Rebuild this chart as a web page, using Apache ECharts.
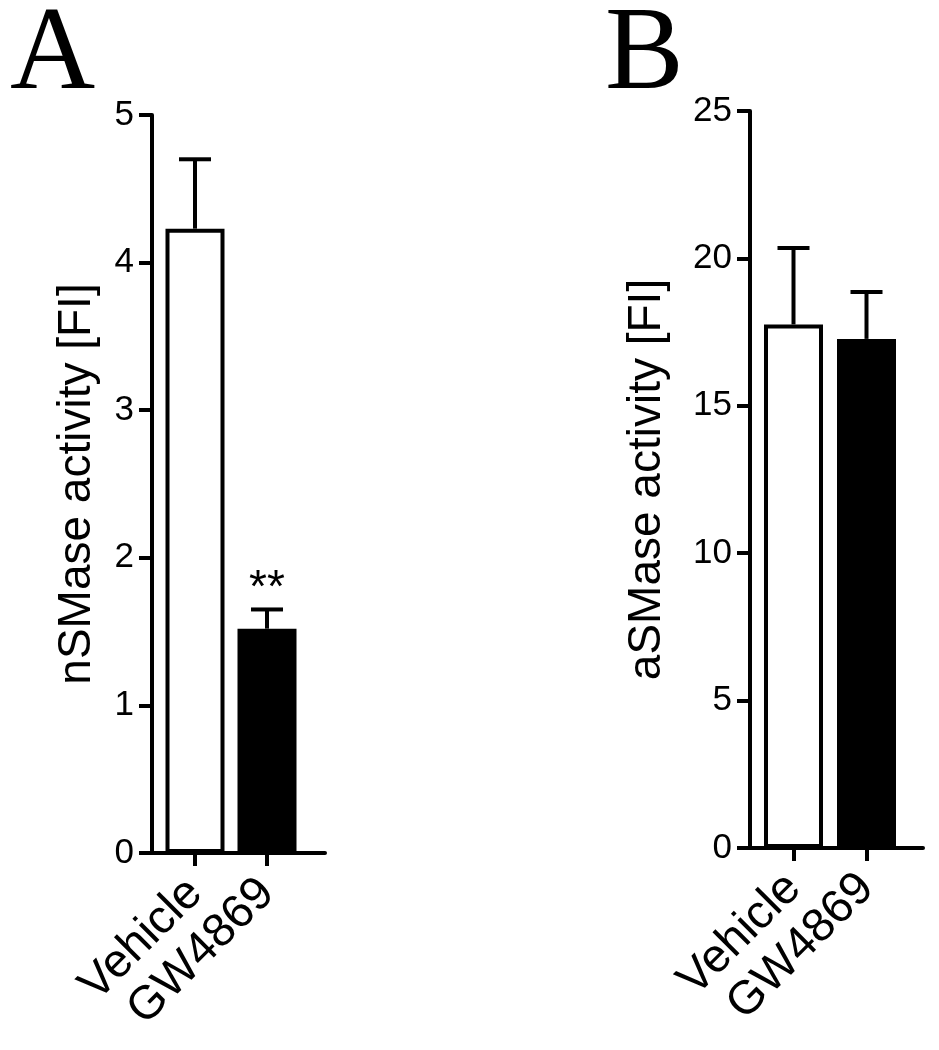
<!DOCTYPE html>
<html>
<head>
<meta charset="utf-8">
<script src="https://cdn.jsdelivr.net/npm/echarts@6/dist/echarts.min.js"></script>
<style>
html,body{margin:0;padding:0;background:#fff;}
#c{width:939px;height:1050px;}
</style>
</head>
<body>
<div id="c"></div>
<script>
// ---- data ----
const categories = ['Vehicle', 'GW4869'];
const nSMaseMean = [4.23, 1.52];
const nSMaseErrTop = [4.70, 1.65];
const nSMaseSig = ['', '**'];
const aSMaseMean = [17.76, 17.27];
const aSMaseErrTop = [20.35, 18.86];
const aSMaseSig = ['', ''];
const nSMaseTicks = {min: 0, max: 5, interval: 1};
const aSMaseTicks = {min: 0, max: 25, interval: 5};
const panelLabels = ['A', 'B'];
const yTitles = ['nSMase activity [FI]', 'aSMase activity [FI]'];

// ---- styles ----
const barFill = ['#ffffff', '#000000'];
const FONT = '"Liberation Sans", Arial, Helvetica, sans-serif';
const LW = 4;

const chart = echarts.init(document.getElementById('c'), null, {renderer: 'canvas'});

function errRender(sig) {
  return function (params, api) {
    const x = api.value(0), v = api.value(1), hi = api.value(2);
    const p0 = api.coord([x, v]);
    const p1 = api.coord([x, hi]);
    const children = [
      {type: 'line', shape: {x1: p0[0], y1: p0[1], x2: p1[0], y2: p1[1]},
       style: {stroke: '#000', lineWidth: LW}},
      {type: 'line', shape: {x1: p1[0] - 16, y1: p1[1], x2: p1[0] + 16, y2: p1[1]},
       style: {stroke: '#000', lineWidth: LW}}
    ];
    const s = sig[params.dataIndex];
    if (s) {
      children.push({type: 'text', x: p1[0], y: p1[1] - 20,
        style: {text: s, font: '46px ' + FONT, fill: '#000', align: 'center', verticalAlign: 'middle'}});
    }
    return {type: 'group', children: children};
  };
}

function mainX(gi) {
  return {
    type: 'category', gridIndex: gi, data: categories,
    axisLine: {show: false},
    axisTick: {show: true, alignWithLabel: true, length: 13, lineStyle: {color: '#000', width: LW}},
    axisLabel: {rotate: 45, margin: 33, color: '#000', fontSize: 47, fontFamily: FONT, interval: 0}
  };
}
function mainY(gi, t, title, gap) {
  return {
    type: 'value', gridIndex: gi, min: t.min, max: t.max, interval: t.interval, offset: 7,
    name: title, nameLocation: 'middle', nameGap: gap,
    nameTextStyle: {fontSize: 46, fontFamily: FONT, color: '#000'},
    axisLine: {show: true, lineStyle: {color: '#000', width: LW}},
    axisTick: {show: true, length: 13, lineStyle: {color: '#000', width: LW}},
    axisLabel: {margin: 18, color: '#000', fontSize: 35, fontFamily: FONT},
    splitLine: {show: false}
  };
}
function lineX(gi) {
  return {type: 'value', gridIndex: gi, min: 0, max: 1,
    axisLine: {show: true, onZero: false, lineStyle: {color: '#000', width: LW}},
    axisTick: {show: false}, axisLabel: {show: false}, splitLine: {show: false}};
}
function lineY(gi) {
  return {type: 'value', gridIndex: gi, min: 0, max: 1, show: false};
}

function barData(means) {
  return means.map((v, i) => ({value: v, itemStyle: {color: barFill[i]}}));
}
function errData(means, tops) {
  return means.map((v, i) => [i, v, tops[i]]);
}

const option = {
  animation: false,
  backgroundColor: '#fff',
  grid: [
    {left: 159, width: 144, top: 115, height: 738},
    {left: 152, width: 173, top: 115, height: 738},
    {left: 757, width: 146, top: 111, height: 737},
    {left: 750, width: 173, top: 111, height: 737}
  ],
  xAxis: [mainX(0), lineX(1), mainX(2), lineX(3)],
  yAxis: [mainY(0, nSMaseTicks, yTitles[0], 52), lineY(1), mainY(2, aSMaseTicks, yTitles[1], 80), lineY(3)],
  graphic: [
    {type: 'text', x: 10, y: 57, style: {text: panelLabels[0], font: '118px "Liberation Serif", "Times New Roman", serif', fill: '#000', verticalAlign: 'middle'}},
    {type: 'text', x: 605, y: 57, style: {text: panelLabels[1], font: '118px "Liberation Serif", "Times New Roman", serif', fill: '#000', verticalAlign: 'middle'}}
  ],
  series: [
    {type: 'bar', xAxisIndex: 0, yAxisIndex: 0, barWidth: 59, data: barData(nSMaseMean),
     itemStyle: {borderColor: '#000', borderWidth: LW}, z: 2},
    {type: 'custom', xAxisIndex: 0, yAxisIndex: 0, data: errData(nSMaseMean, nSMaseErrTop),
     renderItem: errRender(nSMaseSig), z: 3},
    {type: 'bar', xAxisIndex: 2, yAxisIndex: 2, barWidth: 59, data: barData(aSMaseMean),
     itemStyle: {borderColor: '#000', borderWidth: LW}, z: 2},
    {type: 'custom', xAxisIndex: 2, yAxisIndex: 2, data: errData(aSMaseMean, aSMaseErrTop),
     renderItem: errRender(aSMaseSig), z: 3}
  ]
};
chart.setOption(option);
</script>
</body>
</html>
